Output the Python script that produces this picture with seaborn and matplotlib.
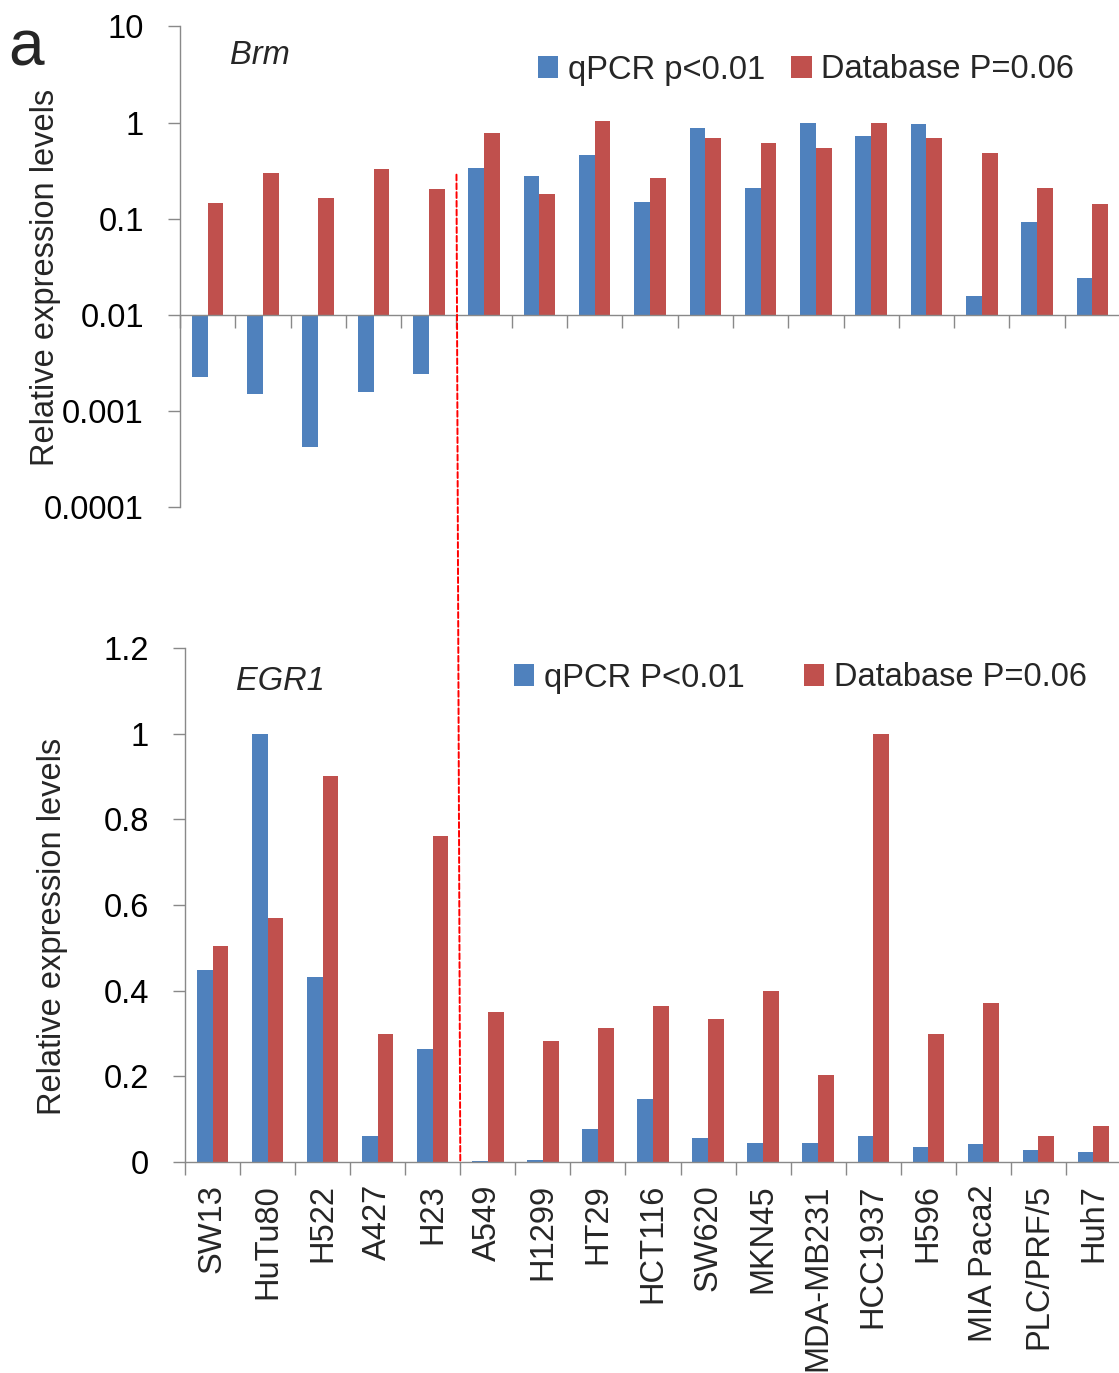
import numpy as np
import pandas as pd
import matplotlib
matplotlib.use("Agg")
import matplotlib.pyplot as plt
from matplotlib.patches import ConnectionPatch
import seaborn as sns

# ---- data -------------------------------------------------------------
cell_lines = ["SW13", "HuTu80", "H522", "A427", "H23", "A549", "H1299", "HT29",
              "HCT116", "SW620", "MKN45", "MDA-MB231", "HCC1937", "H596",
              "MIA Paca2", "PLC/PRF/5", "Huh7"]

brm_qpcr = [0.0023, 0.0015, 0.00043, 0.00157, 0.00247, 0.34, 0.28, 0.46, 0.151,
            0.89, 0.212, 1.0, 0.73, 0.96, 0.0159, 0.093, 0.0241]
brm_db = [0.148, 0.30, 0.163, 0.33, 0.205, 0.775, 0.18, 1.05, 0.267, 0.69,
          0.62, 0.54, 1.0, 0.69, 0.49, 0.209, 0.143]

egr1_qpcr = [0.448, 1.0, 0.433, 0.060, 0.263, 0.002, 0.004, 0.077, 0.148, 0.056,
             0.044, 0.044, 0.061, 0.034, 0.041, 0.027, 0.023]
egr1_db = [0.504, 0.570, 0.901, 0.300, 0.760, 0.351, 0.283, 0.314, 0.365, 0.333,
           0.399, 0.203, 1.0, 0.299, 0.372, 0.060, 0.084]

brm_labels = ["qPCR p<0.01", "Database P=0.06"]
egr1_labels = ["qPCR P<0.01", "Database P=0.06"]

log_ticks = [0.0001, 0.001, 0.01, 0.1, 1, 10]
log_tick_text = ["0.0001", "0.001", "0.01", "0.1", "1", "10"]
lin_ticks = [0, 0.2, 0.4, 0.6, 0.8, 1.0, 1.2]
lin_tick_text = ["0", "0.2", "0.4", "0.6", "0.8", "1", "1.2"]

BASELINE = 0.01  # Brm bars grow up or down from this level

# ---- style ------------------------------------------------------------
BLUE = "#4F81BD"
RED = "#C0504D"
GRAY = "#898989"
sns.set_style("white")
plt.rcParams["font.family"] = ["Liberation Sans", "DejaVu Sans"]
FS = 23.5

W, H = 1119, 1373
fig = plt.figure(figsize=(W / 100, H / 100), dpi=100)
ax1 = fig.add_axes([180 / W, 1 - 507.5 / H, 940 / W, 481 / H])
ax2 = fig.add_axes([185 / W, 1 - 1162 / H, 936 / W, 514 / H])

# long-form tables
brm_df = pd.DataFrame({
    "cell": cell_lines * 2,
    "value": brm_qpcr + brm_db,
    "series": [brm_labels[0]] * len(cell_lines) + [brm_labels[1]] * len(cell_lines),
})
# bars measured in decades from the 0.01 baseline
brm_df["decades"] = np.log10(brm_df["value"]) - np.log10(BASELINE)

egr1_df = pd.DataFrame({
    "cell": cell_lines * 2,
    "value": egr1_qpcr + egr1_db,
    "series": [egr1_labels[0]] * len(cell_lines) + [egr1_labels[1]] * len(cell_lines),
})

sns.barplot(data=brm_df, x="cell", y="decades", hue="series", order=cell_lines,
            hue_order=brm_labels, palette=[BLUE, RED], width=0.57, saturation=1,
            errorbar=None, linewidth=0, ax=ax1)
sns.barplot(data=egr1_df, x="cell", y="value", hue="series", order=cell_lines,
            hue_order=egr1_labels, palette=[BLUE, RED], width=0.57, saturation=1,
            errorbar=None, linewidth=0, ax=ax2)

n = len(cell_lines)
bounds = np.arange(n + 1) - 0.5

for ax in (ax1, ax2):
    ax.set_xlim(-0.5, n - 0.5)
    for s in ("top", "right"):
        ax.spines[s].set_visible(False)
    for s in ("left", "bottom"):
        ax.spines[s].set_color(GRAY)
        ax.spines[s].set_linewidth(1.0)
    ax.set_xlabel("")
    ax.set_ylabel("")
    ax.set_xticks(bounds, minor=True)
    ax.tick_params(axis="x", which="minor", bottom=True, length=9, width=1.0,
                   color=GRAY, direction="out")
    ax.tick_params(axis="y", which="major", left=True, length=9, width=1.0,
                   color=GRAY, direction="out", labelsize=FS, pad=17,
                   labelcolor="black")
    ax.tick_params(axis="y", which="minor", left=False, length=0)

# top panel: log decades
ax1.set_ylim(np.log10(log_ticks[0] / BASELINE), np.log10(log_ticks[-1] / BASELINE))
ax1.set_yticks(np.log10(np.array(log_ticks) / BASELINE))
ax1.set_yticklabels(log_tick_text)
ax1.spines["bottom"].set_position(("data", 0))
ax1.set_xticks(range(n))
ax1.set_xticklabels([])
ax1.tick_params(axis="x", which="major", length=0)

# bottom panel: linear
ax2.set_ylim(0, 1.2)
ax2.set_yticks(lin_ticks)
ax2.set_yticklabels(lin_tick_text)
ax2.set_xticks(range(n))
ax2.set_xticklabels(cell_lines, rotation=90)
ax2.tick_params(axis="x", which="major", length=0, labelsize=FS, pad=16)

# legends
h1, l1 = ax1.get_legend_handles_labels()
ax1.legend(h1, l1, ncol=2, frameon=False, fontsize=FS, loc="center left",
           bbox_to_anchor=(538 / W, 1 - 70 / H), bbox_transform=fig.transFigure,
           borderpad=0, borderaxespad=0, handlelength=0.62, handleheight=0.62,
           handletextpad=0.3, columnspacing=0.8)
h2, l2 = ax2.get_legend_handles_labels()
ax2.legend(h2, l2, ncol=2, frameon=False, fontsize=FS, loc="center left",
           bbox_to_anchor=(514 / W, 1 - 678 / H), bbox_transform=fig.transFigure,
           borderpad=0, borderaxespad=0, handlelength=0.62, handleheight=0.62,
           handletextpad=0.3, columnspacing=1.8)

# gene names, axis titles, panel letter
fig.text(230 / W, 1 - 55 / H, "Brm", style="italic", fontsize=FS,
         ha="left", va="center")
fig.text(236 / W, 1 - 681 / H, "EGR1", style="italic", fontsize=FS,
         ha="left", va="center")
fig.text(46 / W, 1 - 277 / H, "Relative expression levels", rotation=90,
         fontsize=FS, ha="center", va="center")
fig.text(53 / W, 1 - 926 / H, "Relative expression levels", rotation=90,
         fontsize=FS, ha="center", va="center")
fig.text(8 / W, 1 - 66 / H, "a", fontsize=46, ha="left", va="baseline")

# dashed divider between the two cell-line groups, spanning both panels
divider = ConnectionPatch(xyA=(4.5, 1.46), coordsA=ax1.transData,
                          xyB=(4.5, 0), coordsB=ax2.transData,
                          color="#FF0000", linewidth=1.4,
                          linestyle=(0, (3, 1.5)))
fig.add_artist(divider)

fig.savefig("out.png", dpi=100)
